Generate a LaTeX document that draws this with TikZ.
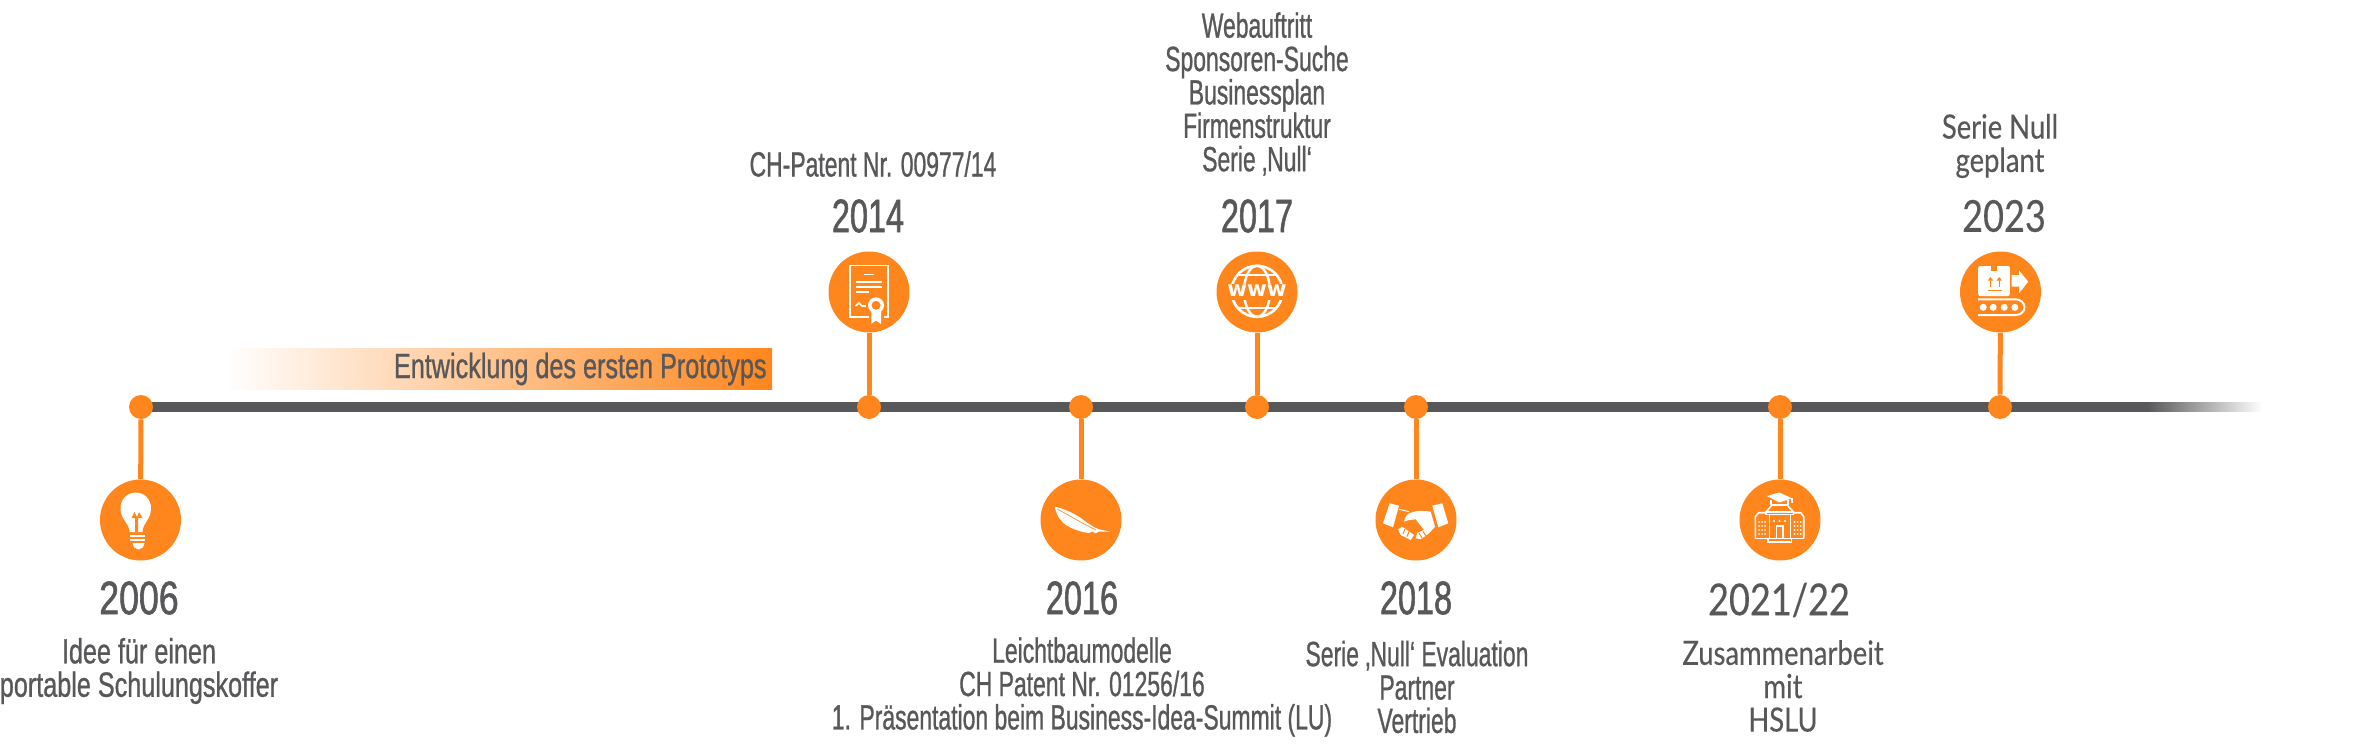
\documentclass[tikz,border=0pt]{standalone}
\usepackage{fontspec}
\usepackage{tikz}
\usetikzlibrary{shapes}

\newfontfamily\slimfont[FakeStretch=0.655,FakeBold=0.8]{Liberation Sans}
\newfontfamily\widefont[FakeStretch=0.72,FakeBold=0.8]{Liberation Sans}
\newfontfamily\yearfont[FakeStretch=0.69,FakeBold=1.2]{Liberation Sans}
\newfontfamily\yearwidefont[FakeStretch=0.76,FakeBold=1.2]{Liberation Sans}
\newfontfamily\latofont[FakeStretch=0.82,FakeBold=0.3]{Lato}
\newfontfamily\wwwfont{DejaVu Sans}

\definecolor{tlorange}{HTML}{FF861C}
\definecolor{tlgray}{HTML}{58585A}
\definecolor{tledge}{HTML}{B4B4B4}

\tikzset{
	dot/.style = {shape = circle, fill = tlorange, inner sep = 0pt, minimum size = 12pt},
	disc/.style = {shape = circle, fill = tlorange, inner sep = 0pt, minimum size = 40.5pt},
	stem/.style = {draw = tlorange, line width = 2.5pt},
	yearlabel/.style = {text = tlgray, inner sep = 0pt, font = \yearfont\fontsize{23.5}{24}\selectfont},
	yearlabelwide/.style = {text = tlgray, inner sep = 0pt, font = \yearwidefont\fontsize{23.5}{24}\selectfont},
	yearlabellato/.style = {text = tlgray, inner sep = 0pt, font = \latofont\fontsize{22}{24}\selectfont},
	desc/.style = {text = tlgray, inner sep = 0pt, align = center, font = \slimfont\fontsize{17.5}{16.7}\selectfont},
	descwide/.style = {text = tlgray, inner sep = 0pt, align = center, font = \widefont\fontsize{17.5}{16.7}\selectfont},
	desclato/.style = {text = tlgray, inner sep = 0pt, align = center, font = \latofont\fontsize{16.7}{16.7}\selectfont},
	iconline/.style = {draw = white, line width = 0.8pt},
	iconfill/.style = {fill = white, draw = none},
	iconcut/.style = {fill = tlorange, draw = none}
}

\begin{document}
\begin{tikzpicture}[x = 0.5pt, y = -0.5pt]
	\useasboundingbox (0,0) rectangle (2373,744);

	\coordinate (tstart) at (141,407);
	\coordinate (tfade) at (2147,407);

	\draw[draw = tledge, line width = 5.4pt] (tstart) -- (tfade);
	\draw[draw = tlgray, line width = 4.6pt] (tstart) -- (tfade);
	\shade[left color = tlgray, middle color = tlgray!75, right color = white] (2147,402.5) rectangle (2262,411.5);

	\draw (498.5,368.5) node[shape = rectangle, inner sep = 0pt,
					 minimum width = 273.5pt, minimum height = 20.5pt,
					 left color = white, right color = tlorange](banner) {};
	\draw (767,369) node[descwide, anchor = east](bannertext) {Entwicklung des ersten Prototyps};

	\draw (141,407) node[dot](d06) {};
	\draw (869,407) node[dot](d14) {};
	\draw (1081,407) node[dot](d16) {};
	\draw (1257,407) node[dot](d17) {};
	\draw (1416,407) node[dot](d18) {};
	\draw (1780,407) node[dot](d21) {};
	\draw (2000,407) node[dot](d23) {};

	\draw (140.5,520) node[disc](c06) {};
	\draw (869,292) node[disc](c14) {};
	\draw (1081,520) node[disc](c16) {};
	\draw (1257,292) node[disc](c17) {};
	\draw (1416,520) node[disc](c18) {};
	\draw (1780,520) node[disc](c21) {};
	\draw (2000.5,292) node[disc](c23) {};

	\draw[stem] (d06) -- (c06);
	\draw[stem] (d14) -- (c14);
	\draw[stem] (d16) -- (c16);
	\draw[stem] (d17) -- (c17);
	\draw[stem] (d18) -- (c18);
	\draw[stem] (d21) -- (c21);
	\draw[stem] (d23) -- (c23);

	\draw (139,598) node[yearlabelwide](y06) {2006};
	\draw (868,216) node[yearlabel](y14) {2014};
	\draw (1082,598) node[yearlabel](y16) {2016};
	\draw (1257,216) node[yearlabel](y17) {2017};
	\draw (1416,598) node[yearlabel](y18) {2018};
	\draw (1779,600) node[yearlabellato](y21) {2021/22};
	\draw (2004,216) node[yearlabellato](y23) {2023};

	\draw (139,671) node[descwide](t06) {Idee für einen\\portable Schulungskoffer};
	\draw (873,164) node[desc](t14) {CH-Patent Nr. 00977/14};
	\draw (1082,687) node[desc](t16) {Leichtbaumodelle\\CH Patent Nr. 01256/16\\1. Präsentation beim Business-Idea-Summit (LU)};
	\draw (1257,94) node[desc](t17) {Webauftritt\\Sponsoren-Suche\\Businessplan\\Firmenstruktur\\Serie ‚Null‘};
	\draw (1417,687) node[desc](t18) {Serie ‚Null‘ Evaluation\\Partner\\Vertrieb};
	\draw (1783,686) node[desclato](t21) {Zusammenarbeit\\mit\\HSLU};
	\draw (2000,146) node[desclato](t23) {Serie Null\\geplant};

	% bulb
	\begin{scope}[shift = {(c06)}]
		\fill[iconfill] (-11,12) .. controls (-11,3) and (-20,0) .. (-20,-12) .. controls (-20,-21) and (-13,-27.5) .. (-4.7,-27.5) .. controls (3.5,-27.5) and (10.5,-21) .. (10.5,-12) .. controls (10.5,0) and (2,3) .. (2,12) -- cycle;
		\fill[iconcut] (-5.5,12) -- (-5.5,-2) -- (-9,-2) -- (-6,-8) -- (-3.5,-3) -- (-1.5,-8) -- (2,-2) -- (-2.5,-2) -- (-2.5,12) -- cycle;
		\fill[iconfill] (-11,14.5) rectangle (4.5,17);
		\fill[iconfill] (-11,18.5) rectangle (4.5,21);
		\fill[iconfill] (-8,23) -- (4,23) .. controls (3.5,27) and (1,29.5) .. (-2,29.5) .. controls (-5,29.5) and (-7.5,27) .. (-8,23) -- cycle;
	\end{scope}

	% certificate
	\begin{scope}[shift = {(c14)}]
		\draw[iconline] (-19.3,-26.7) rectangle (18.7,25);
		\draw[iconline] (-5.5,-17.7) -- (4.5,-17.7);
		\draw[iconline] (-13.5,-10) -- (13,-10);
		\draw[iconline] (-13.5,-5) -- (13,-5);
		\draw[iconline] (-13.5,0) -- (0,0);
		\draw[iconline] (-13.5,14) -- (-10,11) -- (-7,14) -- (-3,14);
		\fill[iconcut] (7,13.3) circle[radius = 10];
		\fill[iconcut] (0,20) rectangle (14.5,34);
		\fill[iconfill] (2.3,19) -- (2.3,32) -- (7,28.5) -- (12,32) -- (12,19) -- cycle;
		\fill[iconfill] (7,13.3) circle[radius = 8];
		\fill[iconcut] (7,13.3) circle[radius = 4.5];
	\end{scope}

	% globe
	\begin{scope}[shift = {(c17)}]
		\draw[draw = white, line width = 1.3pt] (0,-0.7) circle[x radius = 25.5, y radius = 25.5];
		\draw[draw = white, line width = 1.2pt] (0,-0.7) circle[x radius = 13, y radius = 25.5];
		\draw[draw = white, line width = 1.2pt] (-20,-17) -- (20,-17);
		\draw[draw = white, line width = 1.2pt] (-20,16) -- (20,16);
		\fill[iconcut] (-32,-8) rectangle (32,8);
		\node[text = white, inner sep = 0pt, font = \wwwfont\bfseries\fontsize{10.7}{11}\selectfont](www) at (0,-1) {www};
	\end{scope}

	% feather
	\begin{scope}[shift = {(c16)}]
		\fill[iconfill] (-26.3,-13.3) .. controls (-18,-11.5) and (-6,-7) .. (4.7,1.7) .. controls (9,4) and (13,8) .. (18,9.3) -- (29.7,11.7) -- (18,11.5) -- (14.7,13.3) -- (11,11.5) -- (8,13) .. controls (-1,12) and (-8,9) .. (-15.3,5) .. controls (-20,1.5) and (-24.3,-4) .. (-26.3,-13.3) -- cycle;
		\draw[draw = tlorange, line width = 0.3pt] (-24,-11) .. controls (-12,-5) and (2,4) .. (15,10);
	\end{scope}

	% handshake
	\begin{scope}[shift = {(c18)}]
		\fill[iconfill] (-26.3,-16.7) -- (-17,-14.3) -- (-23,7.3) -- (-33,3.3) -- cycle;
		\fill[iconfill] (16.3,-14.3) -- (26.3,-16.7) -- (32.3,3.3) -- (22.3,7.3) -- cycle;
		\fill[iconfill] (-12,1.7) .. controls (-11,-4) and (-8,-7) .. (-3,-8) .. controls (3,-10) and (9,-9) .. (14.7,-8.3) -- (19,6.7) -- (13,13.3) -- (4.7,19.3) -- (-0.3,18.3) -- (1.3,13) -- (8,10) -- (-0.3,-0.7) -- (-7,0) -- cycle;
		\fill[iconfill] (-18,9.3) -- (-13.7,6.7) -- (-2,15) -- (-5.3,20) -- (-15.3,15) -- cycle;
		\draw[draw = tlorange, line width = 0.5pt] (3,13) -- (6,18);
		\draw[draw = tlorange, line width = 0.5pt] (7,11.5) -- (10,16);
		\draw[draw = tlorange, line width = 0.5pt] (-11,9) -- (-13,14);
		\draw[draw = tlorange, line width = 0.5pt] (-7,11.5) -- (-9,16.5);
		\draw[draw = white, line width = 0.5pt] (-17,-10.7) -- (-7,-8.3);
	\end{scope}

	% school
	\begin{scope}[shift = {(c21)}]
		\fill[iconfill] (-13,-24) -- (-0.7,-27.5) -- (12,-21.7) -- (-0.7,-17.5) -- cycle;
		\draw[iconline] (-9,-20) -- (-9,-15.5) -- (8,-15.5) -- (8,-20);
		\draw[iconline] (12,-21.7) -- (12,-17.5);
		\draw[iconline] (-14,-8) -- (-8,-15) -- (7,-15) -- (13.5,-8) -- cycle;
		\draw[iconline] (-14,-8) -- (-14,-5.5) -- (13.5,-5.5) -- (13.5,-8);
		\draw[iconline] (-10.7,-5.5) -- (-10.7,18.3);
		\draw[iconline] (10.3,-5.5) -- (10.3,18.3);
		\draw[iconline] (-3.7,18.3) -- (-3.7,6) -- (2.7,6) -- (2.7,18.3);
		\draw[iconline] (-24.7,18.3) -- (-24.7,-3.3) -- (-21.3,-7.3) -- (-14,-7.3);
		\draw[iconline] (23.7,18.3) -- (23.7,-3.3) -- (20.7,-7.3) -- (13.5,-7.3);
		\draw[iconline] (-24.7,18.3) -- (23.7,18.3);
		\draw[iconline] (-12.3,18.3) rectangle (11.3,21.7);
		\foreach \wx in {-21,-18,-15} \foreach \wy in {2,6,10,14} \fill[iconfill] (\wx,\wy) circle[radius = 1];
		\foreach \wx in {14.5,17.5,20.5} \foreach \wy in {2,6,10,14} \fill[iconfill] (\wx,\wy) circle[radius = 1];
		\foreach \wx in {-6,-0.5,5} \fill[iconfill] (\wx,1) circle[radius = 1.1];
	\end{scope}

	% conveyor
	\begin{scope}[shift = {(c23)}]
		\fill[iconfill, rounded corners = 1pt] (-22.3,-26) rectangle (9.3,4);
		\fill[iconcut] (-9.7,-26.5) rectangle (-4,-21.3);
		\draw[draw = tlorange, line width = 0.6pt] (-10,-5) -- (-10,-12);
		\fill[iconcut] (-12.7,-11.5) -- (-10,-15) -- (-7.3,-11.5) -- cycle;
		\draw[draw = tlorange, line width = 0.6pt] (-1.3,-5) -- (-1.3,-12);
		\fill[iconcut] (-4,-11.5) -- (-1.3,-15) -- (1.4,-11.5) -- cycle;
		\draw[draw = tlorange, line width = 0.5pt] (-12.3,-2) -- (1,-2);
		\fill[iconfill] (11,-17) -- (18.7,-17) -- (18.7,-21.3) -- (27.7,-10.3) -- (18.7,1) -- (18.7,-5.3) -- (11,-5.3) -- cycle;
		\draw[draw = white, line width = 1pt] (-22.3,7.3) -- (15,7.3) .. controls (20,7.3) and (24,11) .. (24,15.2) .. controls (24,20) and (20,23) .. (15,23) -- (-22.3,23);
		\foreach \bx in {-17.3,-7.3,3.7,14.3} \fill[iconfill] (\bx,15.3) circle[radius = 3.5];
	\end{scope}
\end{tikzpicture}
\end{document}
